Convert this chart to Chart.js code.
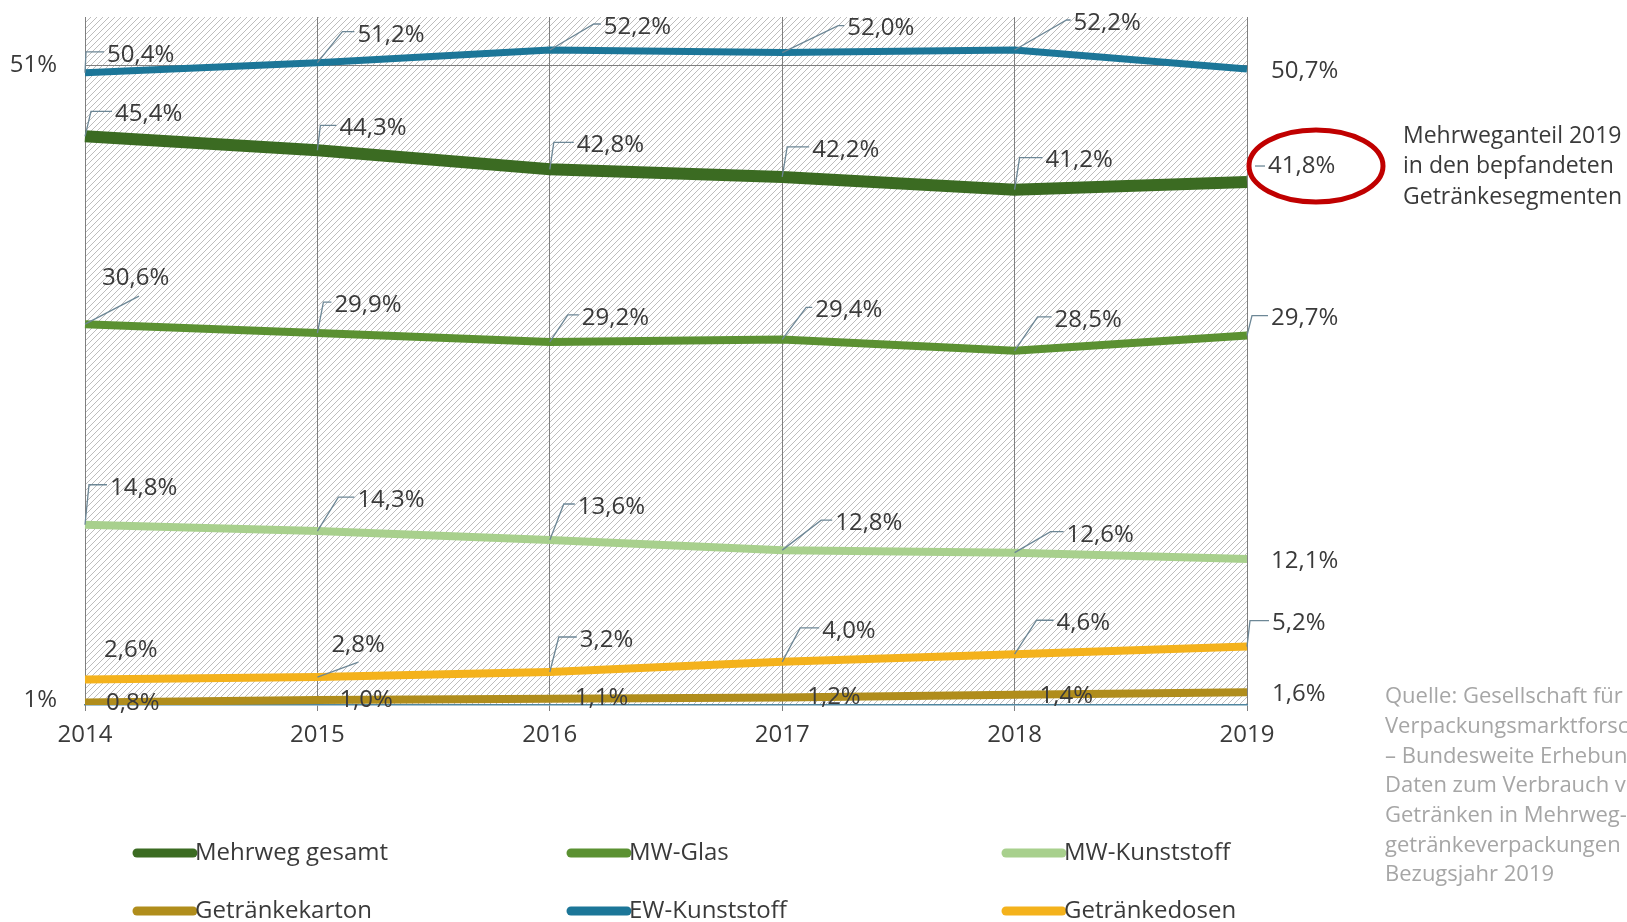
<!DOCTYPE html>
<html>
<head>
<meta charset="utf-8">
<script src="https://cdn.jsdelivr.net/npm/chart.js@4.4.1/dist/chart.umd.min.js"></script>
<style>
  html, body { margin: 0; padding: 0; background: #fff; overflow: hidden; }
</style>
</head>
<body>
<canvas id="GraficoMehrweg" width="1627" height="922"></canvas>
<script>
// Datos (Anteile in %)
var jahre = ['2014', '2015', '2016', '2017', '2018', '2019'];
var mehrwegGesamt = [45.4, 44.3, 42.8, 42.2, 41.2, 41.8];
var mwGlas = [30.6, 29.9, 29.2, 29.4, 28.5, 29.7];
var mwKunststoff = [14.8, 14.3, 13.6, 12.8, 12.6, 12.1];
var getraenkekarton = [0.8, 1.0, 1.1, 1.2, 1.4, 1.6];
var ewKunststoff = [50.4, 51.2, 52.2, 52.0, 52.2, 50.7];
var getraenkedosen = [2.6, 2.8, 3.2, 4.0, 4.6, 5.2];
var yTicks = [1, 51];
var yTickLabels = ['1%', '51%'];

var serienNamen = ['Mehrweg gesamt', 'MW-Glas', 'MW-Kunststoff', 'Getränkekarton', 'EW-Kunststoff', 'Getränkedosen'];

var textoCirculo = ['Mehrweganteil 2019', 'in den bepfandeten', 'Getränkesegmenten'];
var textoQuelle = ['Quelle: Gesellschaft für', 'Verpackungsmarktforschung', '– Bundesweite Erhebung von',
  'Daten zum Verbrauch von', 'Getränken in Mehrweg-', 'getränkeverpackungen', 'Bezugsjahr 2019'];

// posicion de cada etiqueta respecto al punto: [dx, dy, estilo, a, b]
var posEtiquetas = [
  [[30, -22, 'c', 6], [22, -22, 'c', 3], [27, -24, 'c', 4], [30, -27, 'c', 5], [31, -29, 'c', 5], [21, -16, 'd']],
  [[17, -46, 'g', 54, -28], [17, -28, 'c', 6], [32, -24, 'c', 18], [33, -29, 'c', 24], [40, -31, 'c', 23], [24, -17, 'c', 5]],
  [[25, -37, 'c', 4], [40, -31, 'c', 21], [28, -33, 'c', 14], [53, -27, 'c', 39], [52, -18, 'c', 36], [24, 2, 'n']],
  [[21, 1, 'n'], [22, 0, 'n'], [25, 0, 'n'], [25, 0, 'n'], [25, 1, 'n'], [25, 2, 'n']],
  [[22, -18, 'c', 1], [40, -28, 'c', 25], [54, -23, 'c', 44], [65, -24, 'c', 56], [59, -27, 'c', 52], [24, 2, 'n']],
  [[19, -29, 'n'], [14, -32, 'g', 41, -15], [30, -32, 'c', 9], [40, -31, 'c', 18], [42, -31, 'c', 22], [25, -23, 'c', 3]]
];

var fuente = '"Open Sans", "Noto Sans", sans-serif';
var colorTexto = '#3a3a3a';

function crearTrama(ctx) {
  var c = document.createElement('canvas');
  c.width = 6; c.height = 6;
  var g = c.getContext('2d');
  g.fillStyle = '#ffffff';
  g.fillRect(0, 0, 6, 6);
  g.strokeStyle = '#bdbdbd';
  g.lineWidth = 1;
  g.beginPath();
  g.moveTo(0, 6); g.lineTo(6, 0);
  g.moveTo(-3, 3); g.lineTo(3, -3);
  g.moveTo(3, 9); g.lineTo(9, 3);
  g.stroke();
  return ctx.createPattern(c, 'repeat');
}

var pluginFondo = {
  id: 'fondo',
  beforeDraw: function(chart) {
    var a = chart.chartArea, ctx = chart.ctx;
    ctx.save();
    ctx.fillStyle = crearTrama(ctx);
    ctx.fillRect(a.left, a.top, a.right - a.left, a.bottom - a.top);
    ctx.restore();
  }
};

function formato(v) {
  return v.toFixed(1).replace('.', ',') + '%';
}

var pluginEtiquetas = {
  id: 'etiquetas',
  afterDatasetsDraw: function(chart) {
    var ctx = chart.ctx;
    ctx.save();
    ctx.font = '24px ' + fuente;
    ctx.textBaseline = 'middle';
    ctx.textAlign = 'left';
    chart.data.datasets.forEach(function(ds, i) {
      var meta = chart.getDatasetMeta(i);
      meta.data.forEach(function(p, j) {
        var pos = posEtiquetas[i][j];
        var tx = p.x + pos[0], ty = p.y + pos[1];
        ctx.strokeStyle = '#6d8796';
        ctx.lineWidth = 1.3;
        ctx.beginPath();
        if (pos[2] === 'c') {
          ctx.moveTo(p.x, p.y);
          ctx.lineTo(p.x + pos[3], ty - 3);
          ctx.lineTo(tx - 3, ty - 3);
        } else if (pos[2] === 'g') {
          ctx.moveTo(p.x, p.y);
          ctx.lineTo(p.x + pos[3], p.y + pos[4]);
        } else if (pos[2] === 'd') {
          ctx.moveTo(tx - 13, ty);
          ctx.lineTo(tx - 3, ty);
        }
        ctx.stroke();
        ctx.fillStyle = colorTexto;
        ctx.fillText(formato(ds.data[j]), tx, ty);
      });
    });
    ctx.restore();
  }
};

var pluginExtras = {
  id: 'extras',
  afterDraw: function(chart) {
    var ctx = chart.ctx;
    ctx.save();
    // leyenda
    var colX = [137, 571, 1006], filaY = [853, 911];
    ctx.font = '24px ' + fuente;
    ctx.textBaseline = 'middle';
    chart.data.datasets.forEach(function(ds, i) {
      var x = colX[i % 3], y = filaY[Math.floor(i / 3)];
      ctx.strokeStyle = ds.borderColor;
      ctx.lineWidth = 9;
      ctx.lineCap = 'round';
      ctx.beginPath();
      ctx.moveTo(x, y);
      ctx.lineTo(x + 56, y);
      ctx.stroke();
      ctx.fillStyle = colorTexto;
      ctx.fillText(ds.label, x + 58, y);
    });
    // circulo rojo
    ctx.strokeStyle = '#c00000';
    ctx.lineWidth = 5;
    ctx.beginPath();
    ctx.ellipse(1316, 166, 67, 36, 0, 0, Math.PI * 2);
    ctx.stroke();
    ctx.fillStyle = colorTexto;
    ctx.font = '23px ' + fuente;
    textoCirculo.forEach(function(t, k) {
      ctx.fillText(t, 1403, 136 + k * 30.5);
    });
    // fuente
    ctx.fillStyle = '#a6a6a6';
    ctx.font = '22px ' + fuente;
    textoQuelle.forEach(function(t, k) {
      ctx.fillText(t, 1385, 697 + k * 29.7);
    });
    ctx.restore();
  }
};

var ctxMehrweg = document.getElementById('GraficoMehrweg').getContext('2d');
var colores = ['#3b6b22', '#5b9132', '#a8d08d', '#b08d1c', '#1c7698', '#f4b21c'];
var anchos = [12, 8, 8, 8, 7, 8];
var series = [mehrwegGesamt, mwGlas, mwKunststoff, getraenkekarton, ewKunststoff, getraenkedosen];

var GraficoMehrweg = new Chart(ctxMehrweg, {
  type: 'line',
  data: {
    labels: jahre,
    datasets: series.map(function(s, i) {
      return {
        label: serienNamen[i],
        data: s,
        borderColor: colores[i],
        backgroundColor: colores[i],
        borderWidth: anchos[i],
        pointRadius: 0,
        tension: 0,
        fill: false
      };
    })
  },
  options: {
    responsive: false,
    animation: false,
    devicePixelRatio: 1,
    layout: { padding: { left: 0, right: 380, top: 17, bottom: 157 } },
    plugins: { legend: { display: false }, tooltip: { enabled: false } },
    scales: {
      x: {
        offset: false,
        grid: { offset: false, color: '#7f7f7f', lineWidth: 1, tickLength: 6 },
        border: { color: '#4f86a0', width: 1.5 },
        ticks: { color: colorTexto, font: { family: fuente, size: 24 }, padding: 10, maxRotation: 0 },
        afterFit: function(scale) {
          scale.height = 60;
          scale.paddingLeft = 0;
          scale.paddingRight = 0;
        }
      },
      y: {
        min: 0.6,
        max: 54.8,
        afterBuildTicks: function(scale) {
          scale.ticks = yTicks.map(function(v) { return { value: v }; });
        },
        grid: {
          drawTicks: false,
          color: function(c) { return c.tick && c.tick.value === 51 ? '#7f7f7f' : 'rgba(0,0,0,0)'; }
        },
        border: { color: '#7f7f7f', width: 1 },
        ticks: {
          color: colorTexto,
          font: { family: fuente, size: 24 },
          padding: 28,
          callback: function(v, idx) { return yTickLabels[idx]; }
        },
        afterFit: function(scale) {
          scale.width = 85;
          scale.paddingTop = 0;
          scale.paddingBottom = 0;
        }
      }
    }
  },
  plugins: [pluginFondo, pluginEtiquetas, pluginExtras]
});
</script>
</body>
</html>
